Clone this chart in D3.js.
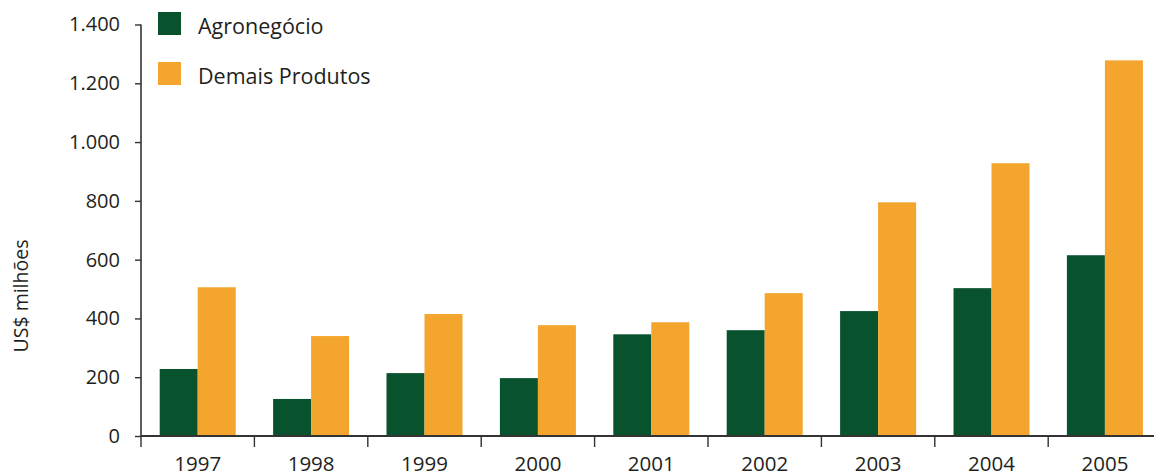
<!DOCTYPE html>
<html><head><meta charset="utf-8">
<script src="https://cdn.jsdelivr.net/npm/d3@7"></script>
<style>body{margin:0;background:#fff}svg{display:block}text{font-family:"Open Sans","Noto Sans",sans-serif;fill:#231f20}</style>
</head><body><svg id="c" width="1154" height="476"></svg>
<script>
const years = ["1997","1998","1999","2000","2001","2002","2003","2004","2005"];
const agro = [228,126,214,197,346,360,425,503,615];
const demais = [506,340,415,377,387,486,795,928,1278];
const seriesNames = ["Agronegócio","Demais Produtos"];
const colors = ["#08532e","#f4a52d"];
const yTicks = [0,200,400,600,800,1000,1200,1400];

const svg = d3.select("#c");
const x0 = 141, yBase = 436;
const x = d3.scaleBand().domain(years).range([x0, x0 + 113.4*9]).paddingInner(0).paddingOuter(0);
const inner = d3.scaleBand().domain([0,1]).range([0, 76]);
const y = d3.scaleLinear().domain([0,1400]).range([yBase, 24.5]);
const fmt = v => d3.format(",")(v).replace(/,/g,".");

// bars
const data = [agro, demais];
data.forEach((arr, si) => {
  svg.append("g").selectAll("rect").data(arr).join("rect")
    .attr("x", (d,i) => x(years[i]) + (x.bandwidth()-76)/2 + inner(si))
    .attr("width", inner.bandwidth())
    .attr("y", d => y(d))
    .attr("height", d => yBase - y(d))
    .attr("fill", colors[si]);
});

// y axis
const ya = svg.append("g").attr("transform", `translate(${x0},0)`)
  .call(d3.axisLeft(y).tickValues(yTicks).tickFormat(fmt).tickSize(6).tickPadding(15));
ya.select(".domain").attr("stroke","#333").attr("stroke-width",1.6).attr("d", `M0,${y(1400)}V${yBase}`);
ya.selectAll(".tick line").attr("stroke","#333").attr("stroke-width",1.4);
ya.selectAll(".tick text").style("font-size","20px").attr("fill","#231f20");

// x axis
const xa = svg.append("g").attr("transform", `translate(0,${yBase})`)
  .call(d3.axisBottom(x).tickSize(0).tickPadding(20));
xa.select(".domain").attr("stroke","#333").attr("stroke-width",2).attr("d", `M${x0},0H1154`);
xa.selectAll(".tick text").style("font-size","20.5px").attr("fill","#231f20");
xa.selectAll(".sep").data(years).join("line").attr("class","sep")
  .attr("x1", d => x(d)).attr("x2", d => x(d)).attr("y1",0).attr("y2",11)
  .attr("stroke","#333").attr("stroke-width",1.4);

// y title
svg.append("text").attr("transform","translate(28,296) rotate(-90)")
  .attr("text-anchor","middle").style("font-size","19.5px").text("US$ milhões");

// legend
const lg = svg.append("g");
seriesNames.forEach((n,i) => {
  lg.append("rect").attr("x",158).attr("y",12 + i*50).attr("width",23).attr("height",23).attr("fill",colors[i]);
  lg.append("text").attr("x",198).attr("y",34 + i*50).style("font-size","21.5px").text(n);
});
</script></body></html>
